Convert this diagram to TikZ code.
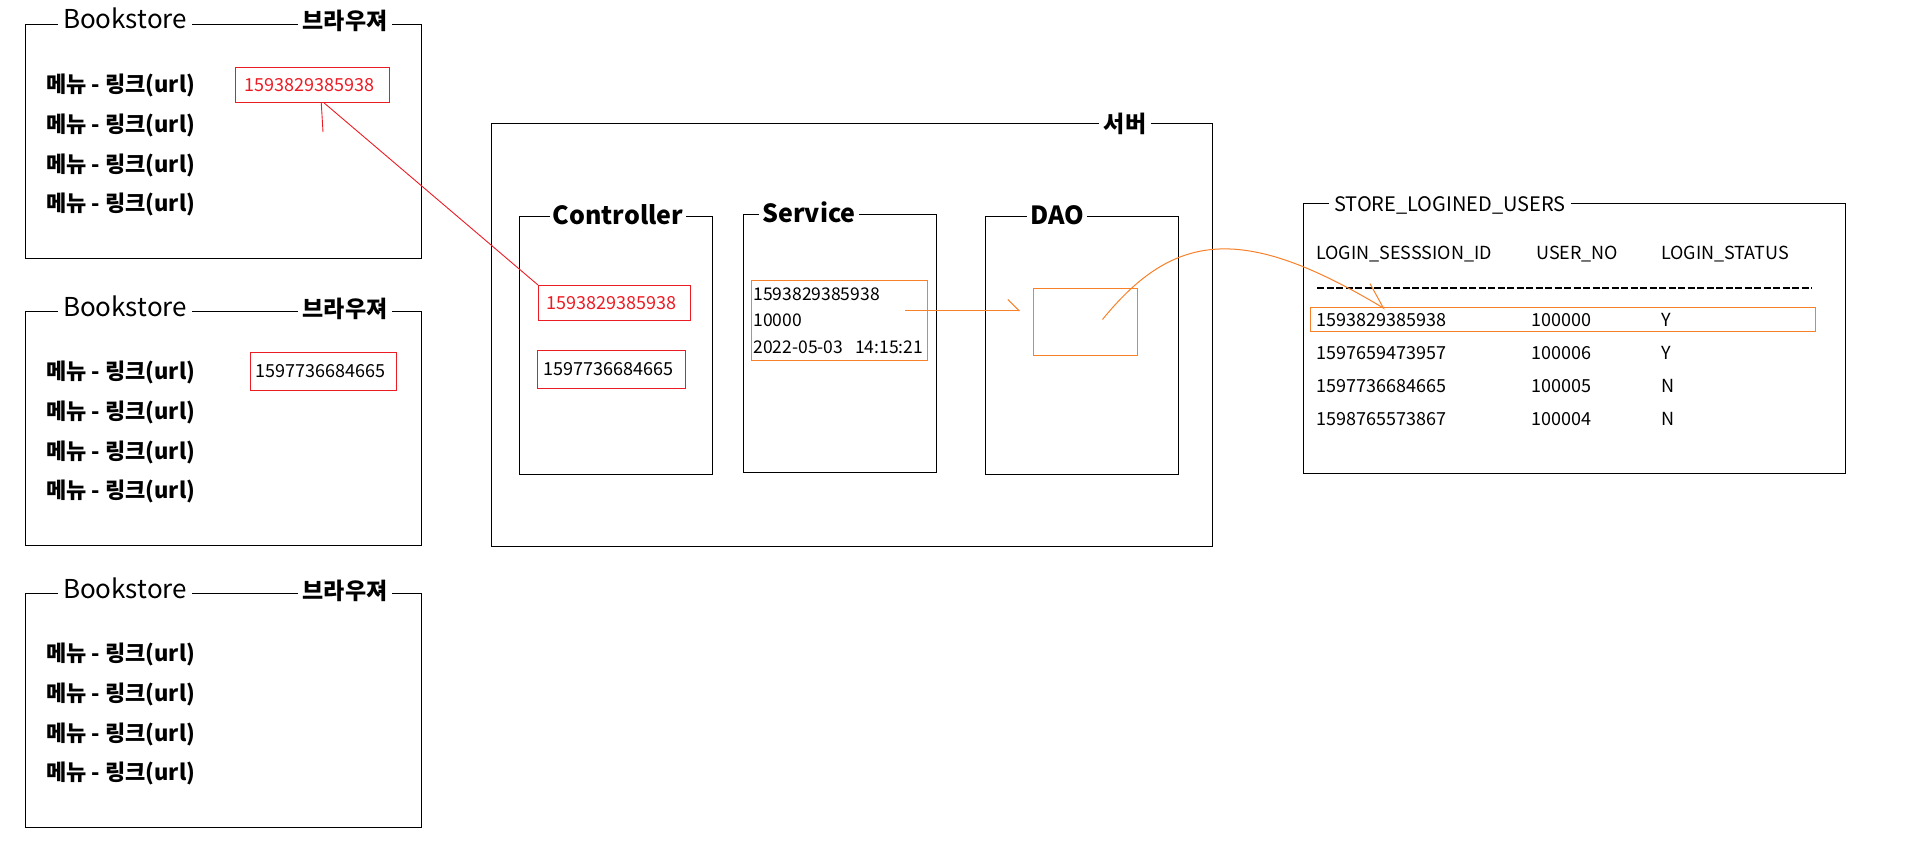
\documentclass[tikz,border=0pt]{standalone}
\usepackage{fontspec}
\setmainfont{Noto Sans CJK KR}
\usetikzlibrary{arrows.meta,calc}

\definecolor{idred}{RGB}{236,28,36}
\definecolor{keyorange}{RGB}{247,128,40}
\newcommand{\fsz}[1]{\fontsize{#1}{#1}\selectfont}

\tikzstyle{frame} = [draw,line width=1.4pt,inner sep=0pt,anchor=north west]
\tikzstyle{frame title} = [fill=white,inner xsep=5pt,inner ysep=1pt,anchor=base]
\tikzstyle{menu item} = [anchor=west,inner sep=0pt,font=\bfseries\fsz{22}]
\tikzstyle{id box} = [draw=idred,line width=1pt,anchor=north west,align=left,text width=136pt,font=\fsz{18}]
\tikzstyle{key box} = [draw=keyorange,line width=1pt,anchor=north west]
\tikzstyle{cell} = [anchor=west,inner sep=0pt,font=\fsz{18}]
\tikzstyle{red link} = [draw=idred,line width=0.9pt]
\tikzstyle{orange link} = [draw=keyorange,line width=1pt]
\tikzstyle{short barb} = [-{Straight Barb[left,length=11pt,width=22pt]}]
\tikzstyle{long barb} = [-{Straight Barb[left,length=24pt,width=28pt]}]

\begin{document}
\begin{tikzpicture}[x=1pt,y=-1pt]
\useasboundingbox (0,0) rectangle (1912,867);
% browsers
\foreach \ytop/\name in {24/bsA, 311/bsB, 593/bsC}{
  \node[frame,minimum width=396pt,minimum height=234pt] (\name) at (25,\ytop) {};
  \node[frame title,font=\fsz{26}] (\name-shop) at (125,\ytop+5) {Bookstore};
  \node[frame title,font=\bfseries\fsz{23}] (\name-kind) at (345,\ytop+6) {브라우져};
  \foreach \i in {1,...,4}
    \node[menu item] (\name-m\i) at (46,\ytop+22+39.7*\i) {메뉴 - 링크(url)};
}
\node[id box,text=idred,inner xsep=9pt,minimum height=35pt] (bsA-id) at (235,67) {1593829385938};
\node[id box,inner xsep=5pt,minimum height=38pt] (bsB-id) at (250,352) {1597736684665};

% server
\node[frame,minimum width=721pt,minimum height=423pt] (server) at (491,123) {};
\node[frame title,font=\bfseries\fsz{23}] (server-t) at (1125,132) {서버};
\foreach \x/\ytop/\name/\ttl/\lx in {519/216/ctrl/Controller/618, 743/214/svc/Service/809, 985/216/dao/DAO/1057}{
  \node[frame,minimum width=193pt,minimum height=258pt] (\name) at (\x,\ytop) {};
  \node[frame title,inner xsep=3pt,font=\bfseries\fsz{25}] (\name-t) at (\lx,\ytop+8) {\ttl};
}
\node[id box,text=idred,inner xsep=8pt,minimum height=35pt] (ctrl-id1) at (538,285) {1593829385938};
\node[id box,inner xsep=6pt,minimum height=38pt] (ctrl-id2) at (537,350) {1597736684665};
\node[key box,align=left,text width=172pt,inner xsep=2pt,minimum height=80pt,
      font=\fontsize{17.5}{26.5}\selectfont] (svc-data) at (751,280) {1593829385938\\10000\\\mbox{2022-05-03\ \ 14:15:21}};
\node[key box,minimum width=104pt,minimum height=67pt] (dao-key) at (1033,288) {};

% table
\node[frame,minimum width=542pt,minimum height=270pt] (users) at (1303,203) {};
\node[frame title,font=\fsz{20}] (users-t) at (1450,211) {STORE\_LOGINED\_USERS};
\foreach \x/\col/\head in {1316/c1/LOGIN\_SESSSION\_ID, 1536/c2/USER\_NO, 1661/c3/LOGIN\_STATUS}
  \node[cell] (head-\col) at (\x,254) {\head};
\draw[line width=2.2pt,dash pattern=on 7pt off 2.5pt] (1317,288) -- (1812,288);
\foreach \y/\r/\id/\no/\st in {320/1/1593829385938/100000/Y, 353/2/1597659473957/100006/Y,
                               386/3/1597736684665/100005/N, 419/4/1598765573867/100004/N}{
  \node[cell] (row\r-id) at (1316,\y) {\id};
  \node[cell] (row\r-no) at (1531,\y) {\no};
  \node[cell] (row\r-st) at (1661,\y) {\st};
}
\node[key box,minimum width=505pt,minimum height=24pt] (row1-key) at (1310,307) {};

% links
\coordinate (stub) at (323,132);
\draw[red link] (bsA-id.-64) -- (stub);
\draw[red link] (bsA-id.-57) -- (ctrl-id1.north west);
\draw[orange link,short barb] ($(svc-data.east)+(-23,-10)$) -- ($(dao-key.west)+(-13,-11.5)$);
\draw[orange link,long barb] ($(dao-key.center)+(17,-2.5)$) .. controls (1175,230) and (1245,225) .. ($(row1-key.north west)+(75,2)$);
\end{tikzpicture}
\end{document}
